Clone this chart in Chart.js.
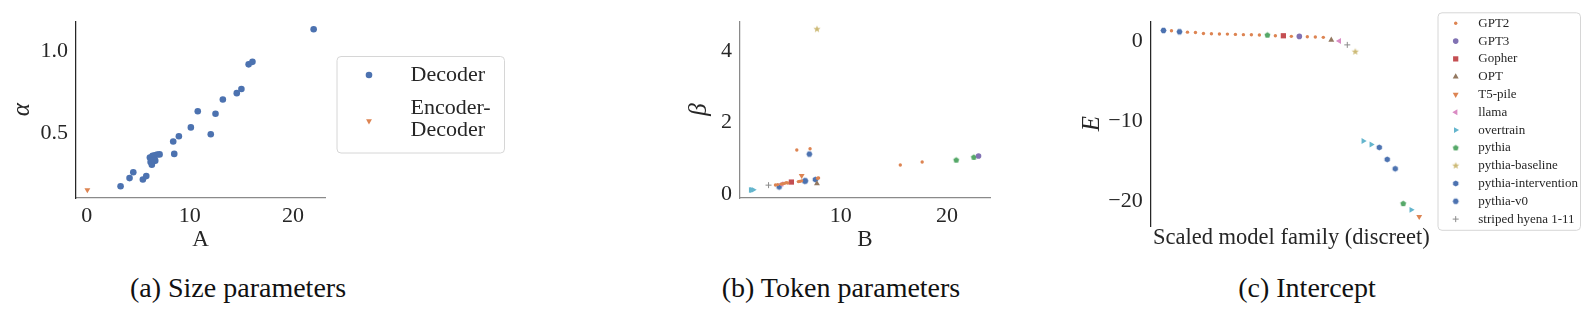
<!DOCTYPE html>
<html>
<head>
<meta charset="utf-8">
<title>Scaling law parameters</title>
<script src="https://cdn.jsdelivr.net/npm/chart.js@4.4.1/dist/chart.umd.min.js"></script>
<style>
  body { margin: 0; background: #fff; font-family: 'Liberation Serif', 'Times New Roman', serif; }
  #wrap { position: relative; width: 1588px; height: 315px; overflow: hidden; }
  .panel { position: absolute; top: 0; }
  .caption { position: absolute; top: 273px; font-size: 28px; line-height: 30px; color: #111;
             white-space: nowrap; transform: translateX(-50%); }
</style>
</head>
<body>
<div id="wrap">
  <canvas id="sizeChart" class="panel" style="left:0px" width="530" height="260"></canvas>
  <canvas id="tokenChart" class="panel" style="left:640px" width="400" height="260"></canvas>
  <canvas id="interceptChart" class="panel" style="left:1040px" width="548" height="260"></canvas>
  <div class="caption" style="left:238px">(a) Size parameters</div>
  <div class="caption" style="left:841px">(b) Token parameters</div>
  <div class="caption" style="left:1307px">(c) Intercept</div>
</div>
<script>
// ---- (a) size parameters: A vs alpha ----
const decoderA     = [22.0, 15.7, 16.07, 14.55, 15.0, 13.2, 10.77, 12.49, 10.1, 12.03, 8.94, 8.39, 8.49,
                      6.13, 6.39, 6.61, 6.84, 7.07, 6.46, 6.65, 6.2, 6.32, 5.45, 5.78, 4.16, 4.52, 3.29];
const decoderAlpha = [1.134, 0.921, 0.936, 0.746, 0.771, 0.707, 0.636, 0.621, 0.538, 0.496, 0.484, 0.452, 0.377,
                      0.355, 0.365, 0.369, 0.373, 0.374, 0.336, 0.336, 0.327, 0.311, 0.221, 0.242, 0.23, 0.265, 0.18];
const encDecA      = [0.07];
const encDecAlpha  = [0.158];
const sizeTicksX = [0, 10, 20];
const sizeTicksY = [0.5, 1.0];

// ---- (b) token parameters (B, beta) and (c) intercept E, per model family ----
const familyNames = ['GPT2', 'GPT3', 'Gopher', 'OPT', 'T5-pile', 'llama', 'overtrain', 'pythia',
                     'pythia-baseline', 'pythia-intervention', 'pythia-v0', 'striped hyena 1-11'];

const gpt2B    = [5.85, 7.1, 15.6, 17.66, 6.13, 7.81, 3.84, 4.05, 4.37, 4.55, 4.85, 5.0, 6.0, 6.3, 7.9, 4.7];
const gpt2Beta = [1.235, 1.27, 0.816, 0.897, 0.355, 0.444, 0.256, 0.265, 0.28, 0.29, 0.32, 0.31, 0.35, 0.37, 0.45, 0.3];
const gpt2E    = [1.28, 1.1, 1.06, 0.94, 0.9, 0.87, 0.86, 0.82, 0.79, 0.78, 0.74, 0.66, 0.58, 0.53, 0.49, 0.45];

const gpt3B = [22.97];      const gpt3Beta = [1.067];      const gpt3E = [0.57];
const gopherB = [5.34];     const gopherBeta = [0.337];    const gopherE = [0.65];
const optB = [7.75];        const optBeta = [0.293];       const optE = [0.12];
const t5B = [6.31];         const t5Beta = [0.515];        const t5E = [-21.96];
const llamaB = [4.42];      const llamaBeta = [0.28];      const llamaE = [0.0];
const overtrainB = [1.5, 1.6, 1.75];  const overtrainBeta = [0.115, 0.115, 0.118];  const overtrainE = [-12.5, -12.94, -21.1];
const pythiaB = [20.87, 22.53];       const pythiaBeta = [0.95, 1.03];              const pythiaE = [0.73, -20.33];
const baselineB = [7.75];   const baselineBeta = [4.62];   const baselineE = [-1.35];
const interventionB = [6.6, 7.6, 4.19];  const interventionBeta = [0.363, 0.408, 0.2];  const interventionE = [-13.3, -14.8, -15.96];
const v0B = [7.03, 6.65];   const v0Beta = [1.12, 0.37];   const v0E = [1.31, 1.15];
const hyenaB = [3.19];      const hyenaBeta = [0.25];      const hyenaE = [-0.49];

const tokenTicksX = [10, 20];
const tokenTicksY = [0, 2, 4];
const interceptTicksY = [0, -10, -20];

const familyB    = [gpt2B, gpt3B, gopherB, optB, t5B, llamaB, overtrainB, pythiaB, baselineB, interventionB, v0B, hyenaB];
const familyBeta = [gpt2Beta, gpt3Beta, gopherBeta, optBeta, t5Beta, llamaBeta, overtrainBeta, pythiaBeta, baselineBeta, interventionBeta, v0Beta, hyenaBeta];
const familyE    = [gpt2E, gpt3E, gopherE, optE, t5E, llamaE, overtrainE, pythiaE, baselineE, interventionE, v0E, hyenaE];

// ---- look ----
const FONT = "'Liberation Serif', 'Times New Roman', serif";
const INK = '#262626';
Chart.defaults.font.family = FONT;
Chart.defaults.color = INK;

// filled marker shapes that Chart.js doesn't have (pentagon, star, hexagon)
function makeShape(kind, r, color) {
  const s = Math.ceil(2 * r + 2);
  const c = document.createElement('canvas');
  c.width = s; c.height = s;
  const g = c.getContext('2d');
  const n = kind === 'pentagon' ? 5 : kind === 'star' ? 10 : 6;
  const start = kind === 'hexagonFlat' ? 0 : -Math.PI / 2;
  g.beginPath();
  for (let i = 0; i < n; i++) {
    const a = start + i * 2 * Math.PI / n;
    const rr = (kind === 'star' && i % 2) ? r * 0.42 : r;
    const px = s / 2 + rr * Math.cos(a), py = s / 2 + rr * Math.sin(a);
    if (i === 0) g.moveTo(px, py); else g.lineTo(px, py);
  }
  g.closePath();
  g.fillStyle = color;
  g.fill();
  return c;
}

// seaborn "deep" colours and matplotlib marker cycle
const familyStyles = [
  { pointStyle: 'circle', radius: 1.7, color: '#DD8452' },
  { pointStyle: 'circle', radius: 2.8, color: '#8172B3' },
  { pointStyle: 'rect', radius: 3.7, color: '#C44E52' },
  { pointStyle: 'triangle', radius: 3.4, color: '#937860' },
  { pointStyle: 'triangle', radius: 3.4, rotation: 180, color: '#DD8452' },
  { pointStyle: 'triangle', radius: 3.4, rotation: 270, color: '#DA8BC3' },
  { pointStyle: 'triangle', radius: 3.4, rotation: 90, color: '#64B5CD' },
  { pointStyle: makeShape('pentagon', 3.1, '#55A868'), radius: 3.1, color: '#55A868' },
  { pointStyle: makeShape('star', 3.8, '#CCB974'), radius: 3.8, color: '#CCB974' },
  { pointStyle: makeShape('hexagon', 3.1, '#4C72B0'), radius: 3.1, color: '#4C72B0' },
  { pointStyle: makeShape('hexagonFlat', 3.1, '#4C72B0'), radius: 3.1, color: '#4C72B0' },
  { pointStyle: 'cross', radius: 3.0, color: '#8C8C8C', line: 1 }
];
const decoderStyle = { pointStyle: 'circle', radius: 3.3, color: '#4C72B0' };
const encDecStyle  = { pointStyle: 'triangle', radius: 3.4, rotation: 180, color: '#DD8452' };

function dataset(label, xs, ys, st) {
  return {
    label: label,
    data: xs.map((x, i) => ({ x: x, y: ys[i] })),
    pointStyle: st.pointStyle,
    pointRadius: st.radius,
    pointRotation: st.rotation || 0,
    backgroundColor: st.color,
    borderColor: st.color,
    borderWidth: st.line || 0,
    clip: false
  };
}

function drawMarker(ctx, st, x, y) {
  ctx.fillStyle = st.color;
  ctx.strokeStyle = st.color;
  ctx.lineWidth = st.line || 0;
  Chart.helpers.drawPoint(ctx, {
    pointStyle: st.pointStyle, radius: st.radius, rotation: st.rotation || 0, borderWidth: st.line || 0
  }, x, y);
}

// framed legend drawn on the canvas
function boxLegend(cfg) {
  return {
    id: 'boxLegend',
    afterDraw(chart) {
      const ctx = chart.ctx;
      ctx.save();
      ctx.beginPath();
      ctx.roundRect(cfg.x + 0.5, cfg.y + 0.5, cfg.w, cfg.h, 4);
      ctx.fillStyle = 'rgba(255,255,255,0.8)';
      ctx.fill();
      ctx.strokeStyle = '#d6d6d6';
      ctx.lineWidth = 1;
      ctx.stroke();
      ctx.font = cfg.fontSize + 'px ' + FONT;
      ctx.textBaseline = 'middle';
      ctx.textAlign = 'left';
      cfg.items.forEach(it => {
        drawMarker(ctx, it.style, cfg.markerX, it.markerY);
        ctx.fillStyle = INK;
        it.lines.forEach((t, k) => ctx.fillText(t, cfg.textX, it.textY + k * cfg.lineGap));
      });
      ctx.restore();
    }
  };
}

function setTicks(values) {
  return scale => { scale.ticks = values.map(v => ({ value: v })); };
}
const minus = v => String(v).replace('-', '\u2212');

function xAxis(o) {
  return {
    type: 'linear', min: o.min, max: o.max,
    grid: { display: false, drawTicks: false },
    border: { display: o.line !== false, color: o.lineColor || INK, width: 1.25 },
    ticks: { display: !!o.ticks, font: { size: 22 }, padding: 5, maxRotation: 0, autoSkip: false, callback: minus },
    afterBuildTicks: setTicks(o.ticks || []),
    afterFit: s => { s.height = o.height; },
    title: { display: true, text: o.title, color: INK, font: { size: o.titleSize }, padding: { top: 0, bottom: o.titlePad } }
  };
}
function yAxis(o) {
  return {
    type: 'linear', min: o.min, max: o.max,
    grid: { display: false, drawTicks: false },
    border: { display: true, color: o.lineColor || INK, width: 1.25 },
    ticks: { font: { size: 22 }, padding: 8, autoSkip: false, callback: o.format || minus },
    afterBuildTicks: setTicks(o.ticks),
    afterFit: s => { s.width = o.width; },
    title: { display: true, text: o.title, color: INK, font: { size: 25, style: 'italic' }, padding: { top: o.titlePad, bottom: 0 } }
  };
}
function baseOptions(padding, scales) {
  return {
    responsive: false, animation: false, events: [],
    layout: { padding: padding, autoPadding: false },
    plugins: { legend: { display: false }, tooltip: { enabled: false } },
    scales: scales
  };
}

// (a)
new Chart(document.getElementById('sizeChart'), {
  type: 'scatter',
  data: { datasets: [
    dataset('Decoder', decoderA, decoderAlpha, decoderStyle),
    dataset('Encoder-Decoder', encDecA, encDecAlpha, encDecStyle)
  ] },
  options: baseOptions({ left: 0, right: 205, top: 12, bottom: 0 }, {
    x: xAxis({ min: -1.03, max: 23.1, ticks: sizeTicksX, height: 62, title: 'A', titleSize: 23, titlePad: 6, lineColor: '#8a8a8a' }),
    y: yAxis({ min: 0.109, max: 1.183, ticks: sizeTicksY, width: 76, title: '\u03B1', titlePad: 7.5, format: v => v.toFixed(1) })
  }),
  plugins: [boxLegend({
    x: 336.5, y: 56, w: 167.5, h: 96.5, markerX: 369, textX: 410.5, fontSize: 22, lineGap: 22,
    items: [
      { lines: ['Decoder'], style: decoderStyle, markerY: 75, textY: 75 },
      { lines: ['Encoder-', 'Decoder'], style: encDecStyle, markerY: 121, textY: 108 }
    ]
  })]
});

// (b)
new Chart(document.getElementById('tokenChart'), {
  type: 'scatter',
  data: { datasets: familyNames.map((n, i) => dataset(n, familyB[i], familyBeta[i], familyStyles[i])) },
  options: baseOptions({ left: 0, right: 50, top: 12, bottom: 0 }, {
    x: xAxis({ min: 0.5, max: 24.05, ticks: tokenTicksX, height: 62, title: 'B', titleSize: 23, titlePad: 6, lineColor: '#8a8a8a' }),
    y: yAxis({ min: -0.11, max: 4.845, ticks: tokenTicksY, width: 100, title: '\u03B2', titlePad: 44, lineColor: '#8a8a8a' })
  })
});

// (c) x is the rank of each fitted intercept (discrete model family axis)
const sortedE = familyE.flat().slice().sort((a, b) => b - a);
new Chart(document.getElementById('interceptChart'), {
  type: 'scatter',
  data: { datasets: familyNames.map((n, i) =>
    dataset(n, familyE[i].map(e => sortedE.indexOf(e)), familyE[i], familyStyles[i])) },
  options: baseOptions({ left: 0, right: 156, top: 16, bottom: 0 }, {
    x: xAxis({ min: -1.6, max: 33.6, ticks: null, height: 34, title: 'Scaled model family (discreet)', titleSize: 22.5, titlePad: 8, line: false }),
    y: yAxis({ min: -23.12, max: 2.47, ticks: interceptTicksY, width: 110.7, title: 'E', titlePad: 37 })
  }),
  plugins: [boxLegend({
    x: 397.5, y: 12.3, w: 142.5, h: 217.5, markerX: 415.7, textX: 438.3, fontSize: 13, lineGap: 0,
    items: familyNames.map((n, i) => ({ lines: [n], style: familyStyles[i], markerY: 23.3 + 17.8 * i, textY: 23.3 + 17.8 * i }))
  })]
});
</script>
</body>
</html>
